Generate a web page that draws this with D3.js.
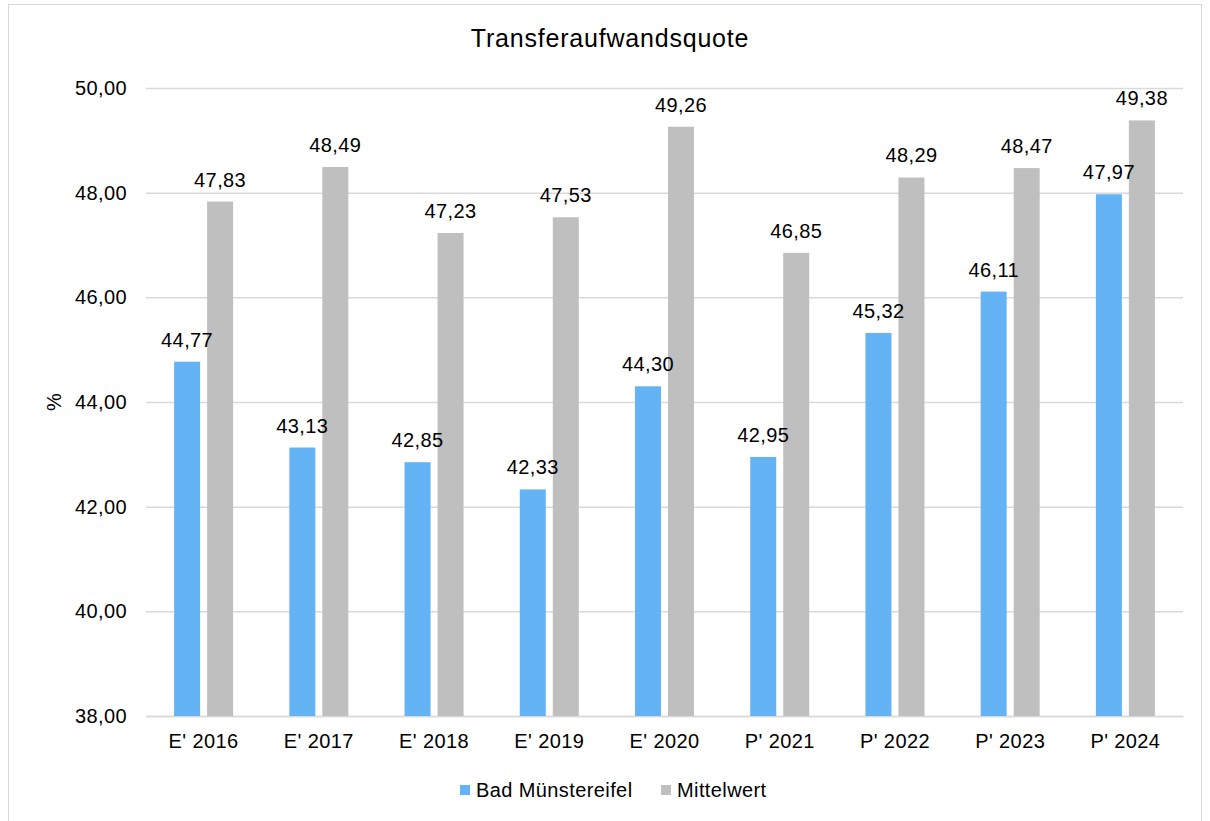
<!DOCTYPE html>
<html>
<head>
<meta charset="utf-8">
<script src="https://cdn.jsdelivr.net/npm/d3@7"></script>
<style>
  body { margin: 0; background: #fff; }
  text { font-family: "Liberation Sans", Arial, sans-serif; fill: #000; letter-spacing: 0.4px; }
</style>
</head>
<body>
<script>
// chart data
var categories = ["E' 2016", "E' 2017", "E' 2018", "E' 2019", "E' 2020", "P' 2021", "P' 2022", "P' 2023", "P' 2024"];
var seriesNames = ["Bad Münstereifel", "Mittelwert"];
var badMuenstereifel = [44.77, 43.13, 42.85, 42.33, 44.30, 42.95, 45.32, 46.11, 47.97];
var mittelwert = [47.83, 48.49, 47.23, 47.53, 49.26, 46.85, 48.29, 48.47, 49.38];
var yTicks = [38, 40, 42, 44, 46, 48, 50];
var colors = ["#63b3f5", "#bfbfbf"];

var W = 1210, H = 821;
var margin = {top: 88, right: 27, bottom: 105, left: 146},
    width = W - margin.left - margin.right,
    height = H - margin.top - margin.bottom;

var fmt = function(v) { return d3.format(".2f")(v).replace(".", ","); };

var svg = d3.select("body").append("svg")
    .attr("width", W)
    .attr("height", H);

// outer frame
svg.append("rect")
    .attr("x", 8.5).attr("y", 4.5)
    .attr("width", 1193).attr("height", 830)
    .attr("fill", "none")
    .attr("stroke", "#d9d9d9");

var g = svg.append("g")
    .attr("transform", "translate(" + margin.left + "," + margin.top + ")");

var x = d3.scaleBand().domain(categories).range([0, width]).padding(0);
var y = d3.scaleLinear().domain([38, 50]).range([height, 0]);

// gridlines
g.append("g")
    .attr("class", "grid")
    .call(d3.axisLeft(y).tickValues(yTicks).tickSize(-width).tickFormat(""))
    .call(function(s) {
      s.select(".domain").remove();
      s.selectAll("line").attr("stroke", "#d9d9d9").attr("stroke-width", 1.5);
    });

// y axis labels
g.append("g")
    .call(d3.axisLeft(y).tickValues(yTicks).tickSize(0).tickPadding(19).tickFormat(fmt))
    .call(function(s) {
      s.select(".domain").remove();
      s.selectAll("text").style("font-size", "20px");
    });

// x axis
g.append("g")
    .attr("transform", "translate(0," + height + ")")
    .call(d3.axisBottom(x).tickSize(0).tickPadding(18))
    .call(function(s) {
      s.select(".domain").attr("stroke", "#d9d9d9").attr("stroke-width", 1.5);
      s.selectAll("text").style("font-size", "20px");
    });

var rows = categories.map(function(c, i) {
  return {cat: c, values: [badMuenstereifel[i], mittelwert[i]]};
});

var barW = 26, offset = 16.5;

var grp = g.selectAll(".cat")
    .data(rows)
    .enter().append("g")
    .attr("class", "cat")
    .attr("transform", function(d) { return "translate(" + (x(d.cat) + x.bandwidth() / 2) + ",0)"; });

grp.selectAll("rect")
    .data(function(d) { return d.values; })
    .enter().append("rect")
    .attr("x", function(d, i) { return (i === 0 ? -offset : offset) - barW / 2; })
    .attr("y", function(d) { return y(d); })
    .attr("width", barW)
    .attr("height", function(d) { return height - y(d); })
    .attr("fill", function(d, i) { return colors[i]; });

grp.selectAll("text.val")
    .data(function(d) { return d.values; })
    .enter().append("text")
    .attr("class", "val")
    .attr("x", function(d, i) { return i === 0 ? -offset : offset; })
    .attr("y", function(d) { return y(d) - 15; })
    .attr("text-anchor", "middle")
    .style("font-size", "20px")
    .text(fmt);

// title
svg.append("text")
    .attr("x", 610).attr("y", 47)
    .attr("text-anchor", "middle")
    .style("font-size", "25px")
    .style("letter-spacing", "0.8px")
    .text("Transferaufwandsquote");

// y axis title
svg.append("text")
    .attr("transform", "translate(61," + (margin.top + height / 2) + ") rotate(-90)")
    .attr("text-anchor", "middle")
    .style("font-size", "20px")
    .text("%");

// legend
var legend = svg.append("g").attr("transform", "translate(460,785)");
var lx = [0, 201];
seriesNames.forEach(function(n, i) {
  legend.append("rect")
      .attr("x", lx[i]).attr("y", 0)
      .attr("width", 10).attr("height", 10)
      .attr("fill", colors[i]);
  legend.append("text")
      .attr("x", lx[i] + 16).attr("y", 12)
      .style("font-size", "20px")
      .text(n);
});
</script>
</body>
</html>
